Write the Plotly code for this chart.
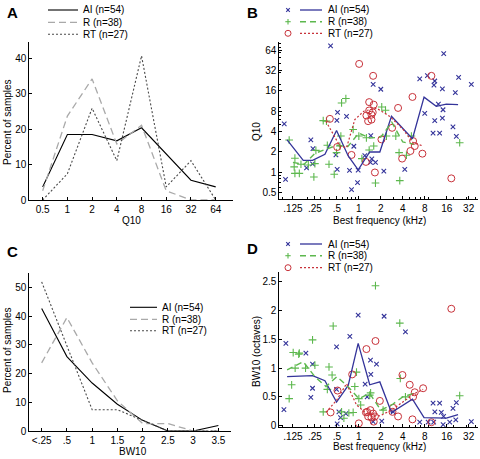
import plotly.graph_objects as go

W, H = 480, 459
def px(x): return x / W
def py(y): return 1 - y / H

FONT = "Liberation Sans, Arial, sans-serif"
BLUE = "#34349A"
GREEN = "#5DB84E"
RED = "#C8323A"

# ---------------- Panel A data (percent of samples per Q10 bin) -------------
q10_bins = ["0.5", "1", "2", "4", "8", "16", "32", "64"]
a_ai = [3.7, 18.5, 18.5, 16.7, 20.4, 13.0, 5.6, 3.7]
a_r = [2.6, 23.7, 34.2, 15.8, 21.1, 2.6, 0, 0]
a_rt = [0, 7.4, 25.9, 11.1, 40.7, 3.7, 11.1, 0]

# ---------------- Panel C data (percent of samples per BW10 bin) ------------
bw_bins = ["<.25", ".5", "1", "1.5", "2", "2.5", "3", "3.5"]
c_ai = [42.6, 25.9, 16.7, 9.3, 3.7, 0, 0, 1.9]
c_r = [23.7, 39.5, 23.7, 10.5, 2.6, 2.6, 0, 0]
c_rt = [51.9, 29.6, 7.4, 7.4, 3.7, 0, 0, 0]

# ---------------- Panel B data (BF kHz vs Q10) ------------------------------
b_ai_bf = [0.410, 14.56, 1.571, 2.0, 6.83, 8.70, 10.97, 10.7, 23.3, 34.8, 21.0,
           13.96, 12.3, 14.25, 8.0, 10.97, 13.96, 19.5, 10.4, 12.8, 21.7, 4.26,
           2.20, 1.691, 1.444, 1.459, 1.506, 1.208, 0.678, 0.854, 0.979, 0.745,
           0.959, 0.794, 0.505, 0.485, 0.511, 0.5, 0.220, 0.235, 0.232, 0.192,
           0.095, 0.099]
b_ai_q10 = [74, 57, 20.0, 16.9, 24.0, 26.8, 22.4, 19.4, 25.4, 20.0, 15.1,
            17.1, 10.2, 8.4, 7.4, 5.8, 6.3, 4.7, 3.8, 3.8, 3.4, 1.10,
            1.04, 1.40, 1.40, 3.48, 1.58, 1.76, 6.7, 2.42, 1.07, 1.06,
            0.70, 0.55, 1.10, 1.80, 7.7, 5.85, 3.0, 2.24, 1.33, 1.16,
            5.2, 0.78]
b_r_bf = [0.111, 0.133, 0.130, 0.133, 0.153, 0.161, 0.203, 0.258, 0.25, 0.242,
          0.325, 0.36, 0.37, 0.39, 0.46, 0.549, 0.567, 0.664, 0.58, 0.836,
          1.0, 1.1, 1.27, 1.385, 1.6, 1.69, 2.06, 2.32, 2.39, 3.21, 3.56, 3.64,
          4.49, 5.25, 24.1, 0.495]
b_r_q10 = [2.99, 1.61, 1.20, 0.96, 0.96, 1.31, 1.28, 2.10, 1.34, 0.85,
           5.8, 5.7, 2.5, 1.31, 0.93, 2.44, 3.43, 12.3, 10.6, 4.29,
           3.43, 1.59, 3.23, 2.13, 2.44, 0.69, 9.25, 8.27, 3.43, 3.43, 1.95, 0.75,
           1.78, 3.43, 2.73, 1.95]
b_rt_bf = [0.401, 0.505, 0.794, 1.01, 1.57, 1.385, 1.60, 1.385, 1.49, 1.55,
           1.27, 1.34, 1.49, 1.25, 1.66, 2.04, 2.86, 3.45, 3.92, 5.09, 5.43,
           5.54, 5.84, 7.43, 9.87, 18.5]
b_rt_q10 = [6.16, 2.36, 1.80, 40.1, 26.7, 10.9, 10.0, 8.2, 7.1, 7.7,
            6.9, 5.7, 6.0, 1.42, 0.99, 3.06, 4.54, 8.94, 1.59, 2.06, 13.0,
            2.89, 2.44, 1.88, 26.7, 0.81]
b_ai_line_bf = [0.104, 0.173, 0.232, 0.343, 0.495, 0.715, 0.979, 1.41, 1.94,
                2.80, 5.43, 7.83, 11.5, 15.8, 22.9]
b_ai_line_q10 = [3.0, 1.5, 1.5, 1.84, 4.14, 1.74, 1.08, 1.99, 1.99,
                 6.73, 3.13, 12.9, 9.45, 10.2, 10.0]
b_r_line_bf = [0.125, 0.177, 0.25, 0.354, 0.5, 0.707, 1.0, 1.41, 2.0, 2.83,
               4.0, 5.66]
b_r_line_q10 = [1.4, 1.3, 1.9, 2.2, 2.5, 2.4, 3.8, 3.2, 3.3, 5.5, 2.8, 2.6]
b_rt_line_bf = [0.354, 0.549, 0.678, 0.88, 1.17, 1.74, 2.66, 4.04, 5.54, 7.58]
b_rt_line_q10 = [5.69, 2.44, 2.3, 6.0, 8.0, 8.9, 6.7, 4.29, 2.73, 2.44]

# ---------------- Panel D data (BF kHz vs BW10 octaves) ---------------------
d_ai_bf = [0.100, 0.094, 0.188, 0.232, 0.232, 0.220, 0.495, 0.495, 0.533,
           0.561, 0.505, 0.664, 0.753, 0.979, 1.22, 1.444, 1.46, 1.745, 1.30,
           1.57, 2.22, 2.06, 2.95, 4.35, 6.83, 8.9, 10.4, 11.0, 10.6, 12.8,
           13.5, 14.3, 14.5, 17.6, 19.5, 21.7, 21.3, 34.8]
d_ai_bw = [1.43, 0.28, 1.26, 1.07, 0.65, 0.49, 1.37, 0.63, 0.24,
           0.14, 0.03, 0.21, 1.55, 1.92, 0.72, 1.14, 0.89, 1.07, 0.50,
           0.07, 1.90, 0.08, 0.24, 1.63, 0.06, 0.06, 0.39, 0.24, 0.06, 0.39,
           0.23, 0.02, 0.16, 0.06, 0.30, 0.40, 0.10, 0.07]
d_r_bf = [0.111, 0.126, 0.134, 0.153, 0.232, 0.25, 0.325, 0.39, 0.37, 0.445,
          0.624, 0.836, 0.88, 0.929, 1.0, 1.41, 1.69, 2.15, 3.64, 3.7, 24.1,
          0.15, 0.12, 0.186, 0.43, 0.58, 0.73, 1.06, 1.45, 4.35]
d_r_bw = [0.47, 1.27, 1.0, 1.26, 1.49, 1.05, 0.24, 1.02, 0.63, 1.73,
          0.13, 0.23, 0.68, 0.93, 0.47, 0.53, 2.43, 0.27, 1.78, 0.82, 0.52,
          1.24, 0.71, 1.0, 0.88, 0.24, 0.22, 0.36, 0.57, 0.5]
d_rt_bf = [0.41, 0.51, 0.81, 1.0, 1.27, 1.30, 1.34, 1.49, 1.57, 1.60, 1.66,
           1.69, 1.94, 2.95, 2.89, 3.45, 3.96, 4.98, 5.43, 5.54, 5.84, 7.6,
           9.87, 18.5, 1.25, 1.44]
d_rt_bw = [0.23, 0.61, 0.89, 0.04, 1.33, 0.24, 0.16, 0.14, 0.21, 0.07, 0.16,
           1.47, 0.43, 0.31, 0.24, 0.16, 0.88, 0.71, 0.11, 0.50, 0.58, 0.65,
           0.06, 2.03, 0.23, 0.27]
d_ai_line_bf = [0.104, 0.173, 0.232, 0.343, 0.495, 0.715, 0.979, 1.41, 1.94,
                2.80, 5.43, 7.83, 11.5, 15.8, 22.9]
d_ai_line_bw = [0.85, 0.87, 0.87, 0.78, 0.41, 0.70, 1.43, 0.71, 0.76,
                0.23, 0.46, 0.14, 0.14, 0.13, 0.19]
d_r_line_bf = [0.104, 0.173, 0.25, 0.354, 0.5, 0.707, 1.0, 1.41, 2.0, 2.83,
               4.0, 5.66]
d_r_line_bw = [0.97, 1.11, 0.85, 0.68, 0.85, 0.68, 0.47, 0.56, 0.27, 0.36,
               0.50, 0.56]
d_rt_line_bf = [0.354, 0.495, 0.678, 0.93, 1.27, 1.94, 2.8, 4.04, 5.84, 7.6]
d_rt_line_bw = [0.23, 0.44, 0.73, 0.36, 0.21, 0.17, 0.27, 0.42, 0.56, 0.63]

series_names = ["AI (n=54)", "R (n=38)", "RT (n=27)"]
freq_ticks = [0.125, 0.25, 0.5, 1, 2, 4, 8, 16, 32]
freq_text = [".125", ".25", ".5", "1", "2", "4", "8", "16", "32"]
q10_ticks = [0.5, 1, 2, 4, 8, 16, 32, 64]
q10_text = ["0.5", "1", "2", "4", "8", "16", "32", "64"]

fig = go.Figure()

hist_styles = [dict(color="black", width=1.1),
               dict(color="#A9A9A9", width=1.3, dash="7px,4px"),
               dict(color="#4A4A4A", width=1.1, dash="2px,2px")]
for vals, st in zip([a_ai, a_r, a_rt], hist_styles):
    fig.add_trace(go.Scatter(x=q10_bins, y=vals, mode="lines", line=st,
                             xaxis="x", yaxis="y", showlegend=False, hoverinfo="skip"))
for vals, st in zip([c_ai, c_r, c_rt], hist_styles):
    fig.add_trace(go.Scatter(x=bw_bins, y=vals, mode="lines", line=st,
                             xaxis="x2", yaxis="y2", showlegend=False, hoverinfo="skip"))

mk_ai = dict(symbol="x-thin", size=4.5, line=dict(width=1.1, color=BLUE), color=BLUE)
mk_r = dict(symbol="cross-thin", size=5.5, line=dict(width=1.1, color=GREEN), color=GREEN)
mk_rt = dict(symbol="circle-open", size=7, line=dict(width=1.0, color=RED), color=RED)

def scatter_panel(xa, ya, pts, lines):
    for (xs, ys), mk in zip(pts, [mk_ai, mk_r, mk_rt]):
        fig.add_trace(go.Scatter(x=xs, y=ys, mode="markers", marker=mk,
                                 xaxis=xa, yaxis=ya, showlegend=False, hoverinfo="skip"))
    stl = [dict(color=BLUE, width=1.3),
           dict(color=GREEN, width=1.4, dash="6px,4px"),
           dict(color=RED, width=1.2, dash="2px,2px")]
    for (xs, ys), st in zip(lines, stl):
        fig.add_trace(go.Scatter(x=xs, y=ys, mode="lines", line=st,
                                 xaxis=xa, yaxis=ya, showlegend=False, hoverinfo="skip"))

scatter_panel("x3", "y3",
              [(b_ai_bf, b_ai_q10), (b_r_bf, b_r_q10), (b_rt_bf, b_rt_q10)],
              [(b_ai_line_bf, b_ai_line_q10), (b_r_line_bf, b_r_line_q10),
               (b_rt_line_bf, b_rt_line_q10)])
scatter_panel("x4", "y4",
              [(d_ai_bf, d_ai_bw), (d_r_bf, d_r_bw), (d_rt_bf, d_rt_bw)],
              [(d_ai_line_bf, d_ai_line_bw), (d_r_line_bf, d_r_line_bw),
               (d_rt_line_bf, d_rt_line_bw)])

tickfont = dict(family=FONT, size=10, color="black")
common = dict(showline=True, linecolor="black", linewidth=1, ticks="inside",
              ticklen=3, tickcolor="black", showgrid=False, zeroline=False,
              tickfont=tickfont, fixedrange=True, automargin=False)

minor_f = [k * 10 ** e for e in (-2, -1, 0, 1) for k in range(2, 10)] + [0.09]
minor_q = [k * 10 ** e for e in (-1, 0, 1) for k in range(2, 10)]

fig.update_layout(
    template="none",
    width=W, height=H, margin=dict(l=0, r=0, t=0, b=0, pad=0),
    paper_bgcolor="white", plot_bgcolor="white", showlegend=False,
    font=dict(family=FONT, size=10, color="black"),
    xaxis=dict(common, domain=[px(29.3), px(233)], anchor="y", type="category",
               range=[-0.54, 7.7]),
    yaxis=dict(common, domain=[py(200), py(41.7)], anchor="x", range=[0, 44.7],
               tickvals=[0, 10, 20, 30, 40]),
    xaxis2=dict(common, domain=[px(29.3), px(231)], anchor="y2", type="category",
                range=[-0.49, 7.5]),
    yaxis2=dict(common, domain=[py(431), py(272.7)], anchor="x2", range=[0, 55.1],
                tickvals=[0, 10, 20, 30, 40, 50]),
    xaxis3=dict(common, domain=[px(279.3), px(478)], anchor="y3", type="log",
                range=[-1.09, 1.633], tickvals=freq_ticks, ticktext=freq_text,
                minor=dict(tickvals=minor_f, ticks="inside", ticklen=2, tickcolor="black")),
    yaxis3=dict(common, domain=[py(199), py(41.7)], anchor="x3", type="log",
                range=[-0.397, 1.932], tickvals=q10_ticks, ticktext=q10_text,
                minor=dict(tickvals=minor_q, ticks="inside", ticklen=2, tickcolor="black")),
    xaxis4=dict(common, domain=[px(279.3), px(478)], anchor="y4", type="log",
                range=[-1.09, 1.633], tickvals=freq_ticks, ticktext=freq_text,
                minor=dict(tickvals=minor_f, ticks="inside", ticklen=2, tickcolor="black")),
    yaxis4=dict(common, domain=[py(427.4), py(271.9)], anchor="x4",
                range=[-0.03, 2.67], tickvals=[0, 0.5, 1, 1.5, 2, 2.5],
                ticktext=["0", "0.5", "1", "1.5", "2", "2.5"]),
)

ann = []
shapes = []
def text(x, y, s, size=10, angle=0, anchor="center", bold=False):
    ann.append(dict(x=px(x), y=py(y), xref="paper", yref="paper",
                    text=("<b>%s</b>" % s) if bold else s,
                    showarrow=False, textangle=angle, xanchor=anchor, yanchor="middle",
                    font=dict(family=FONT, size=size, color="black")))

text(12, 12, "A", 15, bold=True)
text(252, 12, "B", 15, bold=True)
text(12, 251, "C", 15, bold=True)
text(252, 249, "D", 15, bold=True)
text(131, 220, "Q10")
text(133, 451, "BW10")
text(379, 220.5, "Best frequency (kHz)")
text(379, 446.5, "Best frequency (kHz)")
text(7, 122, "Percent of samples", angle=-90)
text(7, 350, "Percent of samples", angle=-90)
text(256, 132, "Q10", angle=-90)
text(256, 352, "BW10 (octaves)", angle=-90)

def seg(x0, y0, x1, y1, color, width=1.1, dash="solid"):
    shapes.append(dict(type="line", xref="paper", yref="paper", x0=px(x0), y0=py(y0),
                       x1=px(x1), y1=py(y1), line=dict(color=color, width=width, dash=dash)))

def hist_legend(x0, x1, xt, ys):
    for y, name, st in zip(ys, series_names, hist_styles):
        seg(x0, y, x1, y, st["color"], st["width"], st.get("dash", "solid"))
        text(xt, y, name, 10, anchor="left")

hist_legend(48, 78, 81, [10, 22.3, 34.3])
hist_legend(130, 157, 159.5, [307.3, 319.3, 330.7])

def scat_legend(mx, x0, x1, xt, ys):
    y0, y1, y2 = ys
    seg(mx - 1.8, y0 - 1.8, mx + 1.8, y0 + 1.8, BLUE, 1.1)
    seg(mx - 1.8, y0 + 1.8, mx + 1.8, y0 - 1.8, BLUE, 1.1)
    seg(x0, y0, x1, y0, BLUE, 1.3)
    seg(mx - 2.7, y1, mx + 2.7, y1, GREEN, 1.1)
    seg(mx, y1 - 2.7, mx, y1 + 2.7, GREEN, 1.1)
    seg(x0, y1, x1, y1, GREEN, 1.4, "6px,4px")
    shapes.append(dict(type="circle", xref="paper", yref="paper", x0=px(mx - 3), x1=px(mx + 3),
                       y0=py(y2 + 3), y1=py(y2 - 3), line=dict(color=RED, width=1)))
    seg(x0, y2, x1, y2, RED, 1.2, "2px,2px")
    for y, name in zip(ys, series_names):
        text(xt, y, name, 10, anchor="left")

scat_legend(288, 300, 322, 325.5, [10, 21.7, 33.3])
scat_legend(288, 300, 322, 325.5, [244, 255.7, 267.7])

fig.update_layout(annotations=ann, shapes=shapes)
fig.write_html("out.html", config={"displayModeBar": False},
               post_script="document.body.style.margin='0';document.body.style.overflow='hidden';")
